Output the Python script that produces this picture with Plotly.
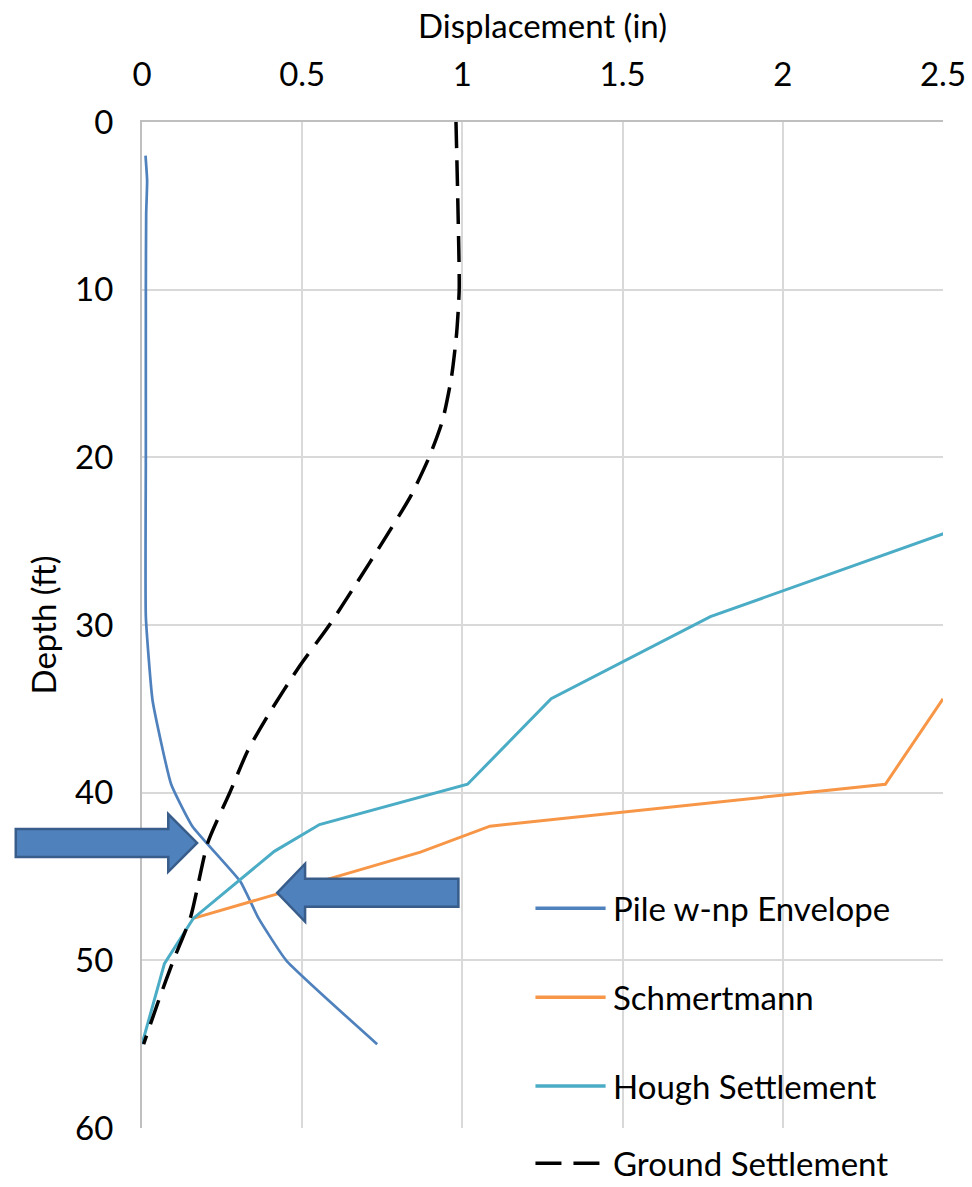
import plotly.graph_objects as go

# ---- series data (displacement in inches, depth in feet) ----
pile_depth = [2.0, 3.5, 5.5, 10, 20, 29.5, 34.5, 39.5, 42.0, 45.3, 47.5, 50.0, 55.0]
pile_disp = [0.011, 0.016, 0.013, 0.012, 0.012, 0.012, 0.033, 0.091, 0.157, 0.307, 0.364, 0.45, 0.734]

schm_depth = [34.4, 39.5, 42.0, 43.55, 47.5]
schm_disp = [2.5, 2.32, 1.086, 0.869, 0.16]

hough_depth = [24.5, 29.5, 34.4, 39.5, 41.9, 43.5, 47.5, 50.2, 55.0]
hough_disp = [2.51, 1.774, 1.277, 1.016, 0.554, 0.413, 0.16, 0.07, 0.0]

ground_depth = [0, 5, 10, 12.6, 15.2, 17.8, 20, 22.3, 25, 27.5, 30, 32.5, 35.3,
                37.5, 40, 43, 47.4, 50, 52.5, 55]
ground_disp = [0.98, 0.986, 0.99, 0.982, 0.966, 0.938, 0.896, 0.839, 0.753, 0.67,
               0.585, 0.49, 0.396, 0.33, 0.274, 0.205, 0.152, 0.098, 0.05, 0.005]

x_ticks = [0, 0.5, 1, 1.5, 2, 2.5]
y_ticks = [0, 10, 20, 30, 40, 50, 60]

names = ["Pile w-np Envelope", "Schmertmann", "Hough Settlement", "Ground Settlement"]
colors = ["#4F81BD", "#F79646", "#4BACC6", "#000000"]

FONT = "Lato, 'Open Sans', sans-serif"
FS = 33
X_RANGE = [0, 2.5]
Y_RANGE = [60, 0]
DASH = "26px,12px"

fig = go.Figure()
fig.add_trace(go.Scatter(x=pile_disp, y=pile_depth, mode="lines", name=names[0],
                         line=dict(color=colors[0], width=2.7, shape="spline", smoothing=0.4)))
fig.add_trace(go.Scatter(x=schm_disp, y=schm_depth, mode="lines", name=names[1],
                         line=dict(color=colors[1], width=3)))
fig.add_trace(go.Scatter(x=hough_disp, y=hough_depth, mode="lines", name=names[2],
                         line=dict(color=colors[2], width=3)))
fig.add_trace(go.Scatter(x=ground_disp, y=ground_depth, mode="lines", name=names[3],
                         line=dict(color=colors[3], width=3.5, dash=DASH,
                                   shape="spline", smoothing=0.6)))


def to_paper(x, d):
    px = (x - X_RANGE[0]) / (X_RANGE[1] - X_RANGE[0])
    py = (Y_RANGE[0] - d) / (Y_RANGE[0] - Y_RANGE[1])
    return px, py


def block_arrow(tip_x, tip_d, tail_x, head_len, shaft_half, head_half):
    """Block arrow pointing from tail_x toward tip_x at depth tip_d."""
    s = 1 if tip_x > tail_x else -1
    base = tip_x - s * head_len
    pts = [
        (tail_x, tip_d - shaft_half), (base, tip_d - shaft_half),
        (base, tip_d - head_half), (tip_x, tip_d),
        (base, tip_d + head_half), (base, tip_d + shaft_half),
        (tail_x, tip_d + shaft_half),
    ]
    path = ""
    for i, (x, d) in enumerate(pts):
        px, py = to_paper(x, d)
        path += ("M" if i == 0 else "L") + f"{px:.5f},{py:.5f} "
    return dict(type="path", xref="paper", yref="paper", path=path + "Z",
                fillcolor="#4F81BD", line=dict(color="#385D8A", width=2.5),
                layer="above")


fig.add_shape(block_arrow(0.172, 43.0, -0.394, 0.09, 0.83, 1.72))
fig.add_shape(block_arrow(0.422, 45.97, 0.9875, 0.087, 0.83, 1.73))

# hand-placed legend in the lower right
leg_x0, leg_x1, leg_tx = 1.228, 1.447, 1.466
leg_depths = [46.9, 52.2, 57.5, 62.1]
for name, col, d in zip(names, colors, leg_depths):
    x0, y0 = to_paper(leg_x0, d)
    x1, _ = to_paper(leg_x1, d)
    tx, _ = to_paper(leg_tx, d)
    dash = DASH if name == "Ground Settlement" else "solid"
    fig.add_shape(type="line", xref="paper", yref="paper", x0=x0, x1=x1, y0=y0, y1=y0,
                  line=dict(color=col, width=3.5, dash=dash))
    fig.add_annotation(xref="paper", yref="paper", x=tx, y=y0, text=name,
                       showarrow=False, xanchor="left", yanchor="middle", borderpad=0,
                       font=dict(family=FONT, size=FS, color="#000000"))

fig.update_layout(
    width=972, height=1187,
    margin=dict(l=142, r=29, t=122, b=59),
    paper_bgcolor="white", plot_bgcolor="white",
    showlegend=False,
    font=dict(family=FONT, size=FS, color="#000000"),
)
fig.update_xaxes(
    side="top", range=X_RANGE, tickvals=x_ticks, ticktext=[f"{v:g}" for v in x_ticks],
    showgrid=True, gridcolor="#D9D9D9", gridwidth=2,
    showline=True, linecolor="#BFBFBF", linewidth=2, zeroline=False,
    ticks="", ticklabelstandoff=21, automargin=False,
    title=dict(text="Displacement (in)", standoff=4, font=dict(size=FS)),
)
fig.update_yaxes(
    range=Y_RANGE, tickvals=y_ticks, ticktext=[str(v) for v in y_ticks],
    showgrid=True, gridcolor="#D9D9D9", gridwidth=2,
    showline=True, linecolor="#BFBFBF", linewidth=2, zeroline=False,
    ticks="", ticklabelstandoff=20, automargin=False,
    title=dict(text="Depth (ft)", standoff=9, font=dict(size=FS)),
)

fig.write_html("out.html")
